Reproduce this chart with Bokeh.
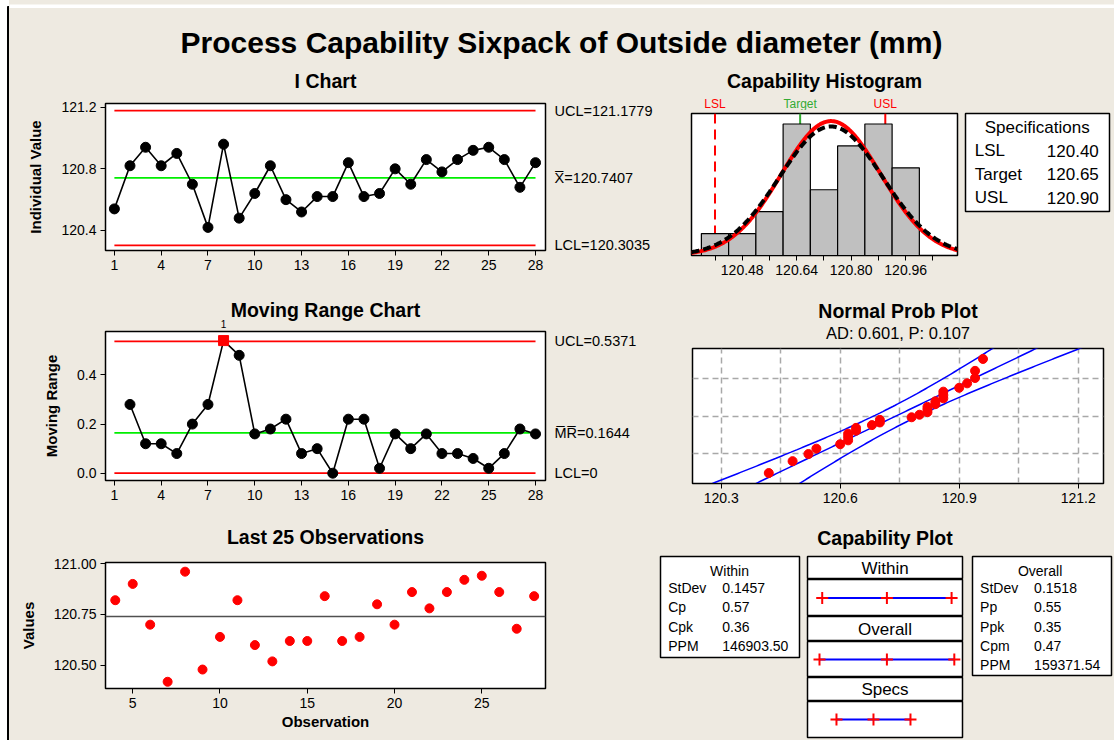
import numpy as np
from statistics import NormalDist
from bokeh.plotting import figure
from bokeh.models import (Range1d, FixedTicker, LinearAxis, Span, PrintfTickFormatter)
from bokeh.layouts import row, column
from bokeh.embed import file_html
from bokeh.resources import INLINE
from bokeh.core.properties import value

# ---------------- data ----------------
obs = list(range(1, 29))
diameter = [120.54, 120.82, 120.94, 120.82, 120.90, 120.70, 120.42, 120.96, 120.48, 120.64,
            120.82, 120.60, 120.52, 120.62, 120.62, 120.84, 120.62, 120.64, 120.80, 120.70,
            120.86, 120.78, 120.86, 120.92, 120.94, 120.86, 120.68, 120.84]
obs_ticks = [1, 4, 7, 10, 13, 16, 19, 22, 25, 28]
i_yticks = [120.4, 120.8, 121.2]
i_center, i_ucl, i_lcl = 120.7407, 121.1779, 120.3035
i_labels = ["UCL=121.1779", "X\u0305=120.7407", "LCL=120.3035"]
mr_yticks = [0.0, 0.2, 0.4]
mr_center, mr_ucl, mr_lcl = 0.1644, 0.5371, 0.0
mr_labels = ["UCL=0.5371", "M\u0305R\u0305=0.1644", "LCL=0"]
last_xticks = [5, 10, 15, 20, 25]
last_yticks = [120.50, 120.75, 121.00]

hist_centers = [120.40, 120.48, 120.56, 120.64, 120.72, 120.80, 120.88, 120.96]
hist_counts = [1, 1, 2, 6, 3, 5, 6, 4]
hist_bin_width = 0.08
hist_label_ticks = [120.48, 120.64, 120.80, 120.96]
hist_minor_ticks = [120.40, 120.56, 120.72, 120.88, 121.04]

lsl, target, usl = 120.40, 120.65, 120.90
spec_rows = [("LSL", "120.40"), ("Target", "120.65"), ("USL", "120.90")]
sd_within, sd_overall = 0.1457, 0.1518
within_stats = [("StDev", "0.1457"), ("Cp", "0.57"), ("Cpk", "0.36"), ("PPM", "146903.50")]
overall_stats = [("StDev", "0.1518"), ("Pp", "0.55"), ("Ppk", "0.35"), ("Cpm", "0.47"),
                 ("PPM", "159371.54")]
ad_text = "AD: 0.601, P: 0.107"
prob_xticks = [120.3, 120.6, 120.9, 121.2]
prob_xgrid = [120.3, 120.45, 120.6, 120.75, 120.9, 121.05, 121.2]
prob_ygrid_pct = [10, 50, 90]

FONT = "Liberation Sans"
BG = "#EEEAE1"


def mk(w, h, l, r, t, b, xr, yr, fill="white", outline="black"):
    p = figure(width=w, height=h, x_range=xr, y_range=yr,
               min_border_left=l, min_border_right=r, min_border_top=t, min_border_bottom=b,
               toolbar_location=None, output_backend="svg",
               background_fill_color=fill, border_fill_color=BG,
               outline_line_color=outline, outline_line_width=1.5)
    p.grid.visible = False
    p.toolbar.logo = None
    return p


def bare(p):
    p.xaxis.visible = False
    p.yaxis.visible = False
    return p


def strip(w, h, l, r, xr=None):
    xr = xr if xr is not None else Range1d(0, w - l - r)
    return bare(mk(w, h, l, r, 0, 0, xr, Range1d(h, 0), fill=BG, outline=None))


def put_text(p, x, y, txt, size, bold=False, align="center", color="black",
             baseline="middle"):
    p.text(x=[x], y=[y], text=[txt], text_align=align, text_baseline=baseline,
           text_font=value(FONT), text_font_size=size,
           text_font_style="bold" if bold else "normal", text_color=color)


def mid(rng):
    return (rng.start + rng.end) / 2.0


def style_axes(p, xfmt=None, yfmt=None):
    for ax in list(p.xaxis) + list(p.yaxis):
        ax.major_label_text_font = FONT
        ax.major_label_text_font_size = "14px"
        ax.major_label_text_color = "black"
        ax.axis_line_color = "black"
        ax.major_tick_line_color = "black"
        ax.major_tick_out = 5
        ax.major_tick_in = 0
        ax.minor_tick_line_color = None
        ax.axis_label_text_font = FONT
        ax.axis_label_text_font_style = "bold"
        ax.axis_label_text_font_size = "15px"
        ax.axis_label_text_color = "black"
        ax.major_label_standoff = 4
    if xfmt:
        p.xaxis.formatter = PrintfTickFormatter(format=xfmt)
    if yfmt:
        p.yaxis.formatter = PrintfTickFormatter(format=yfmt)
    p.yaxis.axis_label_standoff = 14


def ctrl_axis(p, ticks, labels):
    ax = LinearAxis(ticker=FixedTicker(ticks=ticks),
                    major_label_overrides={float(t): s for t, s in zip(ticks, labels)},
                    axis_line_color=None, major_tick_line_color=None,
                    minor_tick_line_color=None, major_tick_out=0, major_tick_in=0,
                    major_label_standoff=9, major_label_text_font=FONT,
                    major_label_text_font_size="14.5px", major_label_text_color="black")
    p.add_layout(ax, "right")


def hline(p, x0, x1, y, color):
    p.segment(x0=x0, y0=y, x1=x1, y1=y, line_color=color, line_width=1.8)


TITLE = "19.5px"

# ---------------- I chart ----------------
xr_i = Range1d(0.43, 28.64)
pA = mk(646, 195, 96, 109, 8, 40, xr_i, Range1d(120.270, 121.224))
style_axes(pA, "%d", "%.1f")
pA.xaxis.ticker = FixedTicker(ticks=obs_ticks)
pA.yaxis.ticker = FixedTicker(ticks=i_yticks)
pA.yaxis.axis_label = "Individual Value"
hline(pA, obs[0], obs[-1], i_ucl, "red")
hline(pA, obs[0], obs[-1], i_lcl, "red")
hline(pA, obs[0], obs[-1], i_center, "#00EE00")
pA.line(obs, diameter, line_color="black", line_width=1.6)
pA.scatter(obs, diameter, size=10, color="black")
ctrl_axis(pA, [i_ucl, i_center, i_lcl], i_labels)
sA = strip(646, 35, 96, 109, xr_i)
put_text(sA, mid(xr_i), 20, "I Chart", TITLE, bold=True)

# ---------------- Moving range chart ----------------
mr_x = obs[1:]
mr = [round(abs(b - a), 4) for a, b in zip(diameter[:-1], diameter[1:])]
xr_mr = Range1d(0.43, 28.64)
pB = mk(646, 192, 96, 109, 3, 40, xr_mr, Range1d(-0.0297, 0.577))
style_axes(pB, "%d", "%.1f")
pB.xaxis.ticker = FixedTicker(ticks=obs_ticks)
pB.yaxis.ticker = FixedTicker(ticks=mr_yticks)
pB.yaxis.axis_label = "Moving Range"
hline(pB, obs[0], obs[-1], mr_ucl, "red")
hline(pB, obs[0], obs[-1], mr_lcl, "red")
hline(pB, obs[0], obs[-1], mr_center, "#00EE00")
pB.line(mr_x, mr, line_color="black", line_width=1.6)
ok_x = [x for x, m in zip(mr_x, mr) if m <= mr_ucl]
ok_y = [m for m in mr if m <= mr_ucl]
bad_x = [x for x, m in zip(mr_x, mr) if m > mr_ucl]
bad_y = [m for m in mr if m > mr_ucl]
pB.scatter(ok_x, ok_y, size=10, color="black")
pB.scatter(bad_x, bad_y, size=10, marker="square", color="red")
ctrl_axis(pB, [mr_ucl, mr_center, mr_lcl], mr_labels)
sB = strip(646, 38, 96, 109, xr_mr)
put_text(sB, mid(xr_mr), 19.5, "Moving Range Chart", TITLE, bold=True)
for bx in bad_x:
    put_text(sB, bx, 33, "1", "10px")

# ---------------- Last 25 observations ----------------
last_x = obs[-25:]
last_y = diameter[-25:]
xr_l = Range1d(3.44, 28.65)
pC = mk(646, 188, 96, 109, 10, 52, xr_l, Range1d(120.387, 121.005))
style_axes(pC, "%d", "%.2f")
pC.xaxis.ticker = FixedTicker(ticks=last_xticks)
pC.yaxis.ticker = FixedTicker(ticks=last_yticks)
pC.xaxis.axis_label = "Observation"
pC.xaxis.axis_label_standoff = 2
pC.yaxis.axis_label = "Values"
pC.add_layout(Span(location=i_center, dimension="width", line_color="#505050", line_width=1.5))
pC.scatter(last_x, last_y, size=9, color="red")
sC = strip(646, 32, 96, 109, xr_l)
put_text(sC, mid(xr_l), 16.7, "Last 25 Observations", TITLE, bold=True)

# ---------------- Capability histogram ----------------
xr_h = Range1d(120.331, 121.112)
pD = mk(306, 180, 36, 4, 3, 35, xr_h, Range1d(0, 6.48))
style_axes(pD, "%.2f", None)
pD.yaxis.visible = False
pD.xaxis.ticker = FixedTicker(ticks=hist_label_ticks, minor_ticks=hist_minor_ticks)
pD.xaxis.minor_tick_line_color = "black"
pD.xaxis.minor_tick_out = 5
pD.xaxis.minor_tick_in = 0
pD.add_layout(Span(location=lsl, dimension="height", line_color="red", line_width=2,
                   line_dash="10 6", level="underlay"))
pD.add_layout(Span(location=target, dimension="height", line_color="#33AA33", line_width=2,
                   level="underlay"))
pD.add_layout(Span(location=usl, dimension="height", line_color="red", line_width=2,
                   level="underlay"))
pD.vbar(x=hist_centers, width=hist_bin_width, top=hist_counts, fill_color="#C0C0C0",
        line_color="black", line_width=1.2)
n = len(diameter)
xs = np.linspace(xr_h.start, xr_h.end, 300)
scale = n * hist_bin_width
yw = [scale * NormalDist(i_center, sd_within).pdf(v) for v in xs]
yo = [scale * NormalDist(i_center, sd_overall).pdf(v) for v in xs]
pD.line(xs, yw, line_color="red", line_width=4)
pD.line(xs, yo, line_color="black", line_width=4, line_dash="8 4")
sD = strip(306, 50, 36, 4, xr_h)
put_text(sD, mid(xr_h), 20, "Capability Histogram", TITLE, bold=True)
for loc, txt, col in [(lsl, "LSL", "red"), (target, "Target", "#33AA33"), (usl, "USL", "red")]:
    put_text(sD, loc, 43.3, txt, "12px", color=col)

# ---------------- Specifications box ----------------
pS = bare(mk(153, 230, 4, 5, 53, 79, Range1d(0, 144), Range1d(98, 0)))
put_text(pS, 71.7, 14, "Specifications", "17px")
for yy, (lab, val) in zip([37.3, 60.6, 84.0], spec_rows):
    put_text(pS, 9.3, yy, lab, "17px", align="left")
    put_text(pS, 133.3, yy, val, "17px", align="right")

# ---------------- Normal probability plot ----------------
nd = NormalDist()
zlim = nd.inv_cdf(0.99)
xr_p = Range1d(120.2277, 121.2638)
pE = mk(459, 175, 37, 11, 3, 37, xr_p, Range1d(-zlim, zlim))
style_axes(pE, "%.1f", None)
pE.yaxis.visible = False
pE.xaxis.ticker = FixedTicker(ticks=prob_xticks)
pE.grid.visible = True
pE.xgrid.ticker = FixedTicker(ticks=prob_xgrid)
pE.ygrid.ticker = FixedTicker(ticks=[nd.inv_cdf(p / 100) for p in prob_ygrid_pct])
pE.grid.grid_line_color = "#A8A8A8"
pE.grid.grid_line_dash = "6 4"
pE.grid.grid_line_width = 1.5
zz = np.linspace(-2.6, 2.6, 120)
center = i_center + sd_overall * zz
band = 1.96 * sd_overall * np.sqrt(1.0 / n + zz ** 2 / (2.0 * (n - 1)))
pE.line(center, zz, line_color="blue", line_width=1.5)
pE.line(center - band, zz, line_color="blue", line_width=1.5)
pE.line(center + band, zz, line_color="blue", line_width=1.5)
srt = sorted(diameter)
zp = [nd.inv_cdf((k + 1 - 0.3) / (n + 0.4)) for k in range(n)]
pE.scatter(srt, zp, size=9, color="red")
sE = strip(459, 55, 37, 11, xr_p)
put_text(sE, mid(xr_p), 20, "Normal Prob Plot", TITLE, bold=True)
put_text(sE, mid(xr_p), 42, ad_text, "16.5px")

# ---------------- Capability plot ----------------
def stats_box(w, title, title_x, rows, lab_x, val_x, ys, box_h):
    # frame: 143 x 123 px, starting 2px left of / above the drawn box
    p = bare(mk(w, 220, 3, w - 3 - 143, 34, 220 - 34 - 123, Range1d(-2, 141),
                Range1d(121, -2), fill=BG, outline=None))
    p.quad(left=0, right=139, top=0, bottom=box_h, fill_color="white", line_color="black",
           line_width=1.5)
    put_text(p, title_x, 14, title, "14px")
    for yy, (lab, val) in zip(ys, rows):
        put_text(p, lab_x, yy, lab, "14px", align="left")
        put_text(p, val_x, yy, val, "14px", align="left")
    return p


pW = stats_box(148, "Within", 69, within_stats, 7.7, 61.7, [31.7, 50.7, 70.7, 89.7], 101)
pO = stats_box(147, "Overall", 67.6, overall_stats, 7.6, 61.6,
               [31.7, 50.7, 70.7, 89.7, 108.3], 119)

cap_xr = Range1d(120.2042, 121.2515)


def hdr(text, h, t=0):
    p = bare(mk(164, h, 4, 5, t, 0, Range1d(0, 155), Range1d(0, 1)))
    put_text(p, 77.5, 0.5, text, "17px")
    return p


def capline(h, lo, cen, hi, b=0):
    p = bare(mk(164, h, 4, 5, 0, b, cap_xr, Range1d(-1, 1)))
    p.segment(x0=lo, y0=0, x1=hi, y1=0, line_color="blue", line_width=2)
    p.scatter([lo, cen, hi], [0, 0, 0], marker="cross", size=12, line_width=2, color="red")
    return p


sCap = strip(164, 33, 4, 5)
put_text(sCap, 77.5, 17, "Capability Plot", TITLE, bold=True)
h1 = hdr("Within", 26, t=3)
q1 = capline(37, i_center - 3 * sd_within, i_center, i_center + 3 * sd_within)
h2 = hdr("Overall", 25)
q2 = capline(36, i_center - 3 * sd_overall, i_center, i_center + 3 * sd_overall)
h3 = hdr("Specs", 24)
q3 = capline(39, lsl, target, usl, b=3)
mid_col = column(sCap, h1, q1, h2, q2, h3, q3, styles={"background-color": BG})

# ---------------- frame, header, layout ----------------
edge = bare(mk(9, 740, 0, 0, 0, 0, Range1d(0, 9), Range1d(740, 0), outline=None))
edge.border_fill_color = "white"
edge.quad(left=7, right=9, top=6, bottom=740, color="black")
topline = bare(mk(1105, 8, 0, 0, 0, 0, Range1d(0, 1105), Range1d(8, 0), outline=None))
topline.quad(left=0, right=1105, top=6, bottom=8, color="black")
header = bare(mk(1105, 52, 0, 0, 0, 0, Range1d(0, 1105), Range1d(52, 0), fill=BG, outline=None))
put_text(header, 552, 34, "Process Capability Sixpack of Outside diameter (mm)", "30px",
         bold=True)

S = {"background-color": BG}
left_col = column(sA, pA, sB, pB, sC, pC, styles=S)
right_col = column(row(column(sD, pD, styles=S), pS, styles=S), column(sE, pE, styles=S),
                   row(pW, mid_col, pO, styles=S), styles=S)
layout = row(edge, column(topline, header, row(left_col, right_col, styles=S), styles=S))

open("out.html", "w").write(file_html(layout, INLINE))
